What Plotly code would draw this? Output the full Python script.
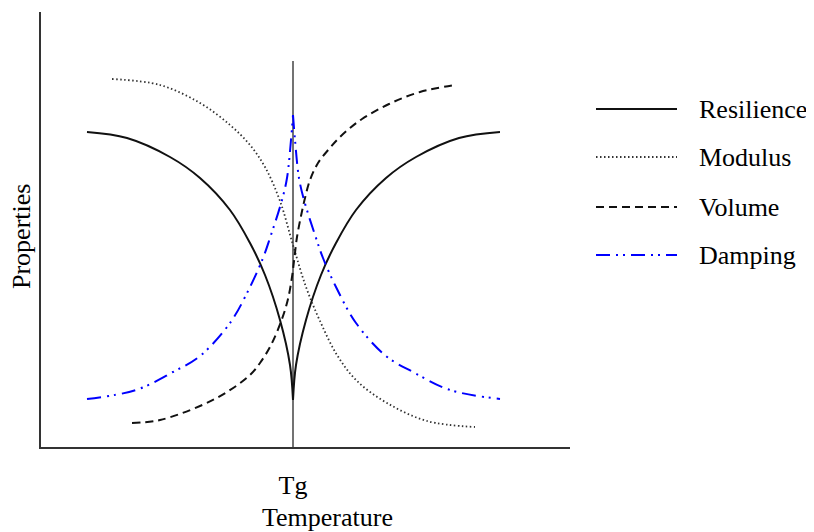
import plotly.graph_objects as go

# Schematic property curves around the glass transition (Tg).
# x: temperature position, y: property level (arbitrary units)
TG = 293

res_x = [87, 127, 170, 200, 230, 250, 265, 280, 290, 293, None,
         293, 296, 306, 321, 336, 356, 386, 416, 459, 500]
res_y = [315, 309, 290, 269, 237, 204, 172, 127, 82, 47, None,
         47, 82, 127, 172, 204, 237, 269, 290, 309, 315]

mod_x = [112, 160, 200, 230, 250, 265, 280, 293, 306, 320, 337, 357, 387, 427, 475]
mod_y = [368, 362, 344, 322, 302, 280, 246, 202, 160, 126, 92, 66, 44, 26, 20]

vol_x = [132, 160, 200, 227, 250, 260, 271, 282, 288, 292, 294.5, 297, 301, 305, 310,
         318, 329, 339, 350, 362, 389, 420, 455]
vol_y = [24, 27, 41, 55, 72, 84, 102, 128, 148, 170, 190, 210, 231, 249, 267,
         284, 298, 309, 319, 328, 343, 355, 362]

damp_x = [87, 136, 173, 200, 230, 250, 263, 270, 282, 287, 291, 293, None,
          293, 295, 299, 304, 316, 323, 336, 356, 386, 413, 450, 500]
damp_y = [48, 57, 75, 91, 124, 160, 189, 209, 247, 269, 307, 332, None,
          332, 307, 269, 247, 209, 189, 160, 124, 91, 75, 57, 48]

tg_line_y = [0, 386]

series = ["Resilience", "Modulus", "Volume", "Damping"]

FONT = "Liberation Serif, Times New Roman, serif"
FS = 26
styles = {
    "Resilience": dict(color="#111111", width=2, dash="solid"),
    "Modulus": dict(color="#333333", width=1.8, dash="1.5px,2.5px"),
    "Volume": dict(color="#111111", width=2, dash="8px,5px"),
    "Damping": dict(color="#0000ff", width=2, dash="14px,6px,2px,5px,2px,6px"),
}

fig = go.Figure()

fig.add_trace(go.Scatter(x=[TG, TG], y=tg_line_y, mode="lines",
                         line=dict(color="#444444", width=1.5), showlegend=False))

for name, xs, ys in [("Resilience", res_x, res_y), ("Modulus", mod_x, mod_y),
                     ("Volume", vol_x, vol_y), ("Damping", damp_x, damp_y)]:
    fig.add_trace(go.Scatter(x=xs, y=ys, mode="lines", name=name,
                             line=dict(shape="spline", smoothing=1, **styles[name]),
                             connectgaps=False, showlegend=False))

# page body has an 8px margin, so the figure is drawn 8px smaller/shifted
OFF = 8
W, H = 814 - OFF, 532 - OFF
x0, x1 = 41, 570
y0, y1 = 12, 447
def px(v):
    return (v - x0) / (x1 - x0)
def py(v):
    return (y1 - v) / (y1 - y0)

# hand-made legend to the right of the plot (long line samples)
rows = [109, 157, 207, 255]
for name, r in zip(series, rows):
    st = styles[name]
    fig.add_shape(type="line", xref="paper", yref="paper",
                  x0=px(596), x1=px(677), y0=py(r), y1=py(r),
                  line=dict(color=st["color"], width=st["width"], dash=st["dash"]))
    fig.add_annotation(text=name, xref="paper", yref="paper", x=px(697), y=py(r),
                       xanchor="left", yanchor="middle", showarrow=False,
                       font=dict(family=FONT, size=FS, color="black"))

fig.add_annotation(text="Temperature", xref="paper", yref="paper", x=px(327), y=py(517),
                   xanchor="center", yanchor="middle", showarrow=False,
                   font=dict(family=FONT, size=FS, color="black"))
fig.add_annotation(text="Properties", xref="paper", yref="paper", x=px(22), y=py(237),
                   xanchor="center", yanchor="middle", showarrow=False, textangle=-90,
                   font=dict(family=FONT, size=FS, color="black"))

fig.update_layout(
    width=W, height=H,
    margin=dict(l=x0 - OFF, r=814 - x1, t=y0 - OFF, b=532 - y1),
    paper_bgcolor="white", plot_bgcolor="white",
    showlegend=False,
    xaxis=dict(range=[x0, x1], showgrid=False, zeroline=False,
               showline=True, linecolor="#333333", linewidth=2,
               tickvals=[TG], ticktext=["Tg"], ticks="", ticklabelstandoff=14,
               tickfont=dict(family=FONT, size=FS, color="black")),
    yaxis=dict(range=[0, y1 - y0], showgrid=False, zeroline=False,
               showline=True, linecolor="#333333", linewidth=2,
               showticklabels=False, ticks=""),
)

fig.write_html("out.html")
